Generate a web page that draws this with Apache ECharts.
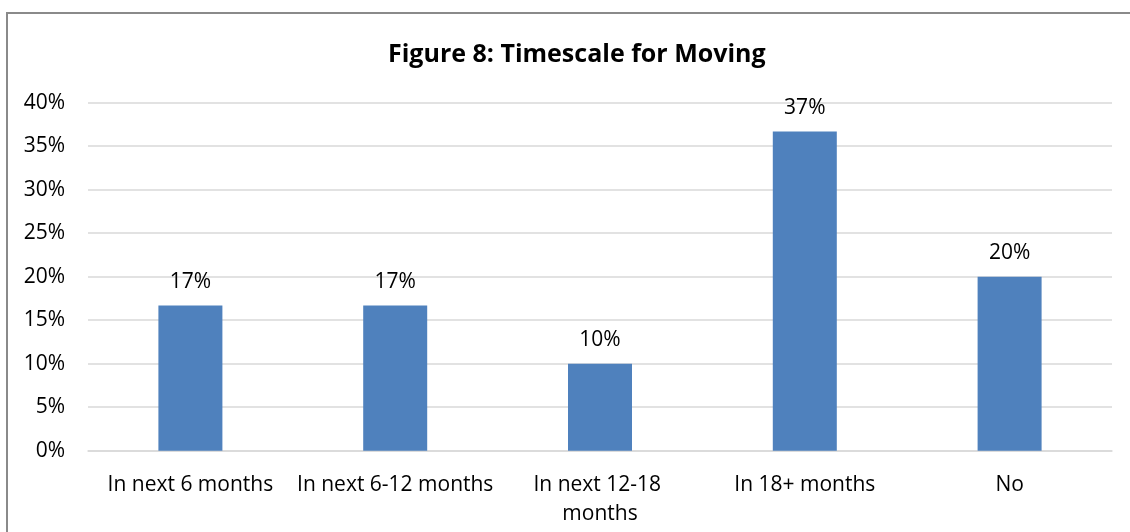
<!DOCTYPE html>
<html>
<head>
<meta charset="utf-8">
<script src="https://cdn.jsdelivr.net/npm/echarts@6/dist/echarts.min.js"></script>
<style>
html,body{margin:0;padding:0;background:#fff;}
#chart{width:1130px;height:532px;}
</style>
</head>
<body>
<div id="chart"></div>
<script>
const titleText = 'Figure 8: Timescale for Moving';
const categories = ['In next 6 months', 'In next 6-12 months', 'In next 12-18 months', 'In 18+ months', 'No'];
const values = [16.7, 16.7, 10.0, 36.7, 20.0];
const yTicks = [0, 5, 10, 15, 20, 25, 30, 35, 40];

const FONT = '"Open Sans"';
const chart = echarts.init(document.getElementById('chart'), null, {renderer: 'canvas'});
chart.setOption({
  backgroundColor: '#ffffff',
  animation: false,
  title: {
    text: titleText,
    left: 383,
    top: 37,
    textStyle: {fontFamily: FONT, fontWeight: 'bold', fontSize: 25, color: '#000'}
  },
  graphic: [{
    type: 'rect',
    shape: {x: 7, y: 13, width: 1140, height: 540},
    style: {fill: 'none', stroke: '#8a8a8a', lineWidth: 2},
    silent: true
  }],
  grid: {left: 88, right: 18, top: 102.7, bottom: 81.3, containLabel: false},
  xAxis: {
    type: 'category',
    data: categories,
    axisLine: {show: true, lineStyle: {color: '#d9d9d9', width: 1.5}},
    axisTick: {show: false},
    axisLabel: {
      fontFamily: FONT, fontSize: 21, color: '#000', margin: 20,
      width: 200, overflow: 'break', lineHeight: 29, interval: 0
    }
  },
  yAxis: {
    type: 'value',
    min: yTicks[0], max: yTicks[yTicks.length - 1], interval: 5,
    axisLine: {show: false},
    axisTick: {show: false},
    splitLine: {lineStyle: {color: '#d9d9d9', width: 1.5}},
    axisLabel: {fontFamily: FONT, fontSize: 21, color: '#000', margin: 23,
      formatter: v => v + '%'}
  },
  series: [{
    type: 'bar',
    data: values,
    barWidth: 64,
    itemStyle: {color: '#4f81bd'},
    label: {
      show: true, position: 'top', distance: 13,
      fontFamily: FONT, fontSize: 21, color: '#000',
      formatter: p => Math.round(p.value) + '%'
    }
  }]
});
</script>
</body>
</html>
